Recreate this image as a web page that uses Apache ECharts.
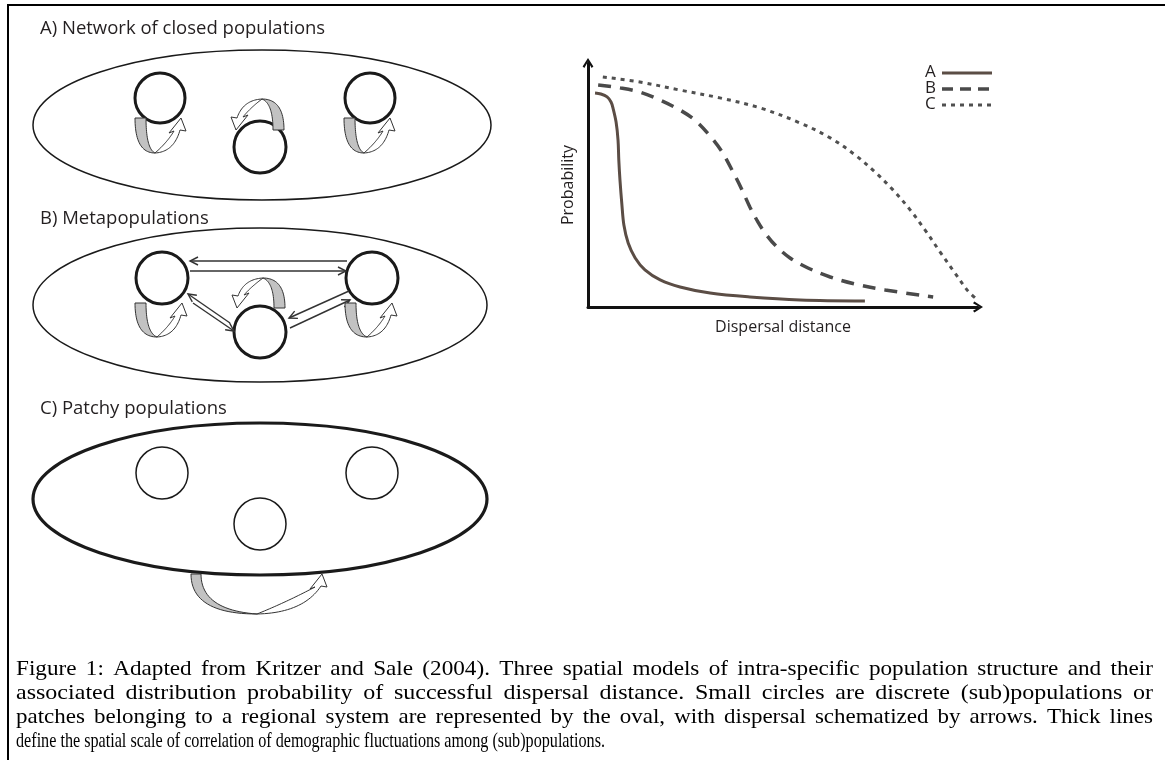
<!DOCTYPE html>
<html><head><meta charset="utf-8">
<script src="https://cdn.jsdelivr.net/npm/echarts@6/dist/echarts.min.js"></script>
<style>html,body{margin:0;padding:0;background:#fff}#c{width:1165px;height:760px}</style>
</head><body><div id="c"></div>
<script>
// ---- data ----
const seriesNames = ['A', 'B', 'C'];
const curveA = [[1.8,87.7],[3.3,87.3],[4.9,86.1],[5.9,84.0],[6.4,81.6],[7.2,75.8],[7.7,68.4],[7.9,60.2],[8.2,52.0],[8.7,41.8],[9.2,33.6],[10.3,26.2],[12.1,20.1],[14.6,15.2],[18.5,11.1],[23.6,8.2],[31.3,5.7],[41.5,4.1],[54.4,2.9],[71.0,2.5]];
const curveB = [[2.6,91.0],[8.2,89.8],[13.3,88.1],[18.5,84.8],[23.6,80.7],[27.4,76.6],[31.3,70.1],[34.4,63.5],[37.2,55.3],[39.5,48.0],[41.5,41.0],[43.6,34.8],[45.6,29.9],[48.2,25.0],[51.8,20.1],[56.4,16.0],[62.1,12.3],[68.5,9.4],[76.2,7.0],[88.5,4.1]];
const curveC = [[3.8,94.3],[13.3,92.2],[23.6,88.9],[33.8,85.7],[44.1,81.6],[54.4,75.4],[62.1,69.3],[68.5,62.3],[73.6,55.3],[78.2,48.0],[82.6,39.8],[86.4,31.6],[90.3,22.5],[94.1,13.9],[97.4,6.6],[99.3,3.7]];
const xAxisName = 'Dispersal distance';
const yAxisName = 'Probability';
const panelTitles = ['A) Network of closed populations', 'B) Metapopulations', 'C) Patchy populations'];
const captionLines = [
  'Figure 1: Adapted from Kritzer and Sale (2004). Three spatial models of intra-specific population structure and their',
  'associated distribution probability of successful dispersal distance. Small circles are discrete (sub)populations or',
  'patches belonging to a regional system are represented by the oval, with dispersal schematized by arrows. Thick lines',
  'define the spatial scale of correlation of demographic fluctuations among (sub)populations.'
];
const lineColors = ['#5b4d45', '#4a4a4a', '#505050'];
const lineTypes = ['solid', [13, 9], [4, 5]];
const legendDash = [null, [11, 7], [4, 5]];
const lineWidths = [3, 3.5, 3];

// ---- helpers for the schematic diagrams ----
const INK = '#1a1a1a';
function quadPts(p0, c, p1, n) {
  const r = [];
  for (let i = 0; i <= n; i++) {
    const t = i / n, u = 1 - t;
    r.push([u*u*p0[0] + 2*u*t*c[0] + t*t*p1[0], u*u*p0[1] + 2*u*t*c[1] + t*t*p1[1]]);
  }
  return r;
}
function xf(pts, ox, oy, rot, sc) {
  const c = Math.cos(rot), s = Math.sin(rot);
  return pts.map(([x, y]) => { x *= sc; y *= sc; return [ox + x*c - y*s, oy + x*s + y*c]; });
}
function poly(points, fill, lw) {
  return { type: 'polygon', shape: { points }, style: { fill, stroke: '#333', lineWidth: lw || 1 } };
}
function loop(ox, oy, wl, wr, h, band, rot, sc) {
  const gray = quadPts([-wl, -h], [-wl, 0], [0, 0], 24)
    .concat(quadPts([0, 0], [-wl + band, -band * 0.4], [-wl + band, -h], 24));
  const Po = [wr - 2, -h + 12], Pi = [wr - 8, -h + 13];
  const white = quadPts([0, 0], [wr * 0.7, -1], Po, 24)
    .concat([[wr + 4, -h + 13], [wr - 1, -h], [wr - 13, -h + 15]])
    .concat(quadPts(Pi, [wr * 0.45, -h * 0.3], [0, 0], 24));
  return [poly(xf(gray, ox, oy, rot, sc), '#c2c2c2'), poly(xf(white, ox, oy, rot, sc), '#ffffff')];
}
function arrow(x1, y1, x2, y2) {
  const dx = x2 - x1, dy = y2 - y1, L = Math.hypot(dx, dy);
  const ux = dx / L, uy = dy / L, px = -uy, py = ux;
  return [
    { type: 'line', shape: { x1, y1, x2, y2 }, style: { stroke: '#333', lineWidth: 1.4 } },
    { type: 'polyline', shape: { points: [[x2 - ux*8 + px*4, y2 - uy*8 + py*4], [x2, y2], [x2 - ux*8 - px*4, y2 - uy*8 - py*4]] },
      style: { stroke: '#333', lineWidth: 1.4, fill: null } }
  ];
}
function ellipse(cx, cy, rx, ry, lw) {
  return { type: 'ellipse', shape: { cx, cy, rx, ry }, style: { fill: 'rgba(0,0,0,0)', stroke: INK, lineWidth: lw } };
}
function circle(cx, cy, r, lw) {
  return { type: 'circle', shape: { cx, cy, r }, style: { fill: '#fff', stroke: INK, lineWidth: lw } };
}
function label(text, x, y, size) {
  return { type: 'text', x, y, style: { text, fontFamily: 'Open Sans', fontSize: size || 18, fill: '#231f20', verticalAlign: 'middle' } };
}

const els = [];
// figure frame
els.push({ type: 'line', shape: { x1: 8, y1: 4, x2: 8, y2: 760 }, style: { stroke: '#000', lineWidth: 2 } });
els.push({ type: 'line', shape: { x1: 7, y1: 5, x2: 1165, y2: 5 }, style: { stroke: '#000', lineWidth: 2 } });

// panel titles
els.push(label(panelTitles[0], 40, 29, 18.5));
els.push(label(panelTitles[1], 40, 219, 18.5));
els.push(label(panelTitles[2], 40, 409, 18.5));

// A) network of closed populations
els.push(ellipse(262, 125, 229, 75, 1.5));
els.push(circle(160, 98, 25, 3), circle(260, 147, 26, 3), circle(370, 98, 25, 3));
els.push(...loop(155, 153, 20, 27, 35, 11, 0, 1));
els.push(...loop(364, 153, 20, 27, 35, 11, 0, 1));
els.push(...loop(262, 99, 22, 27, 31, 11, Math.PI, 1));

// B) metapopulations
els.push(ellipse(260, 305, 227, 77, 1.5));
els.push(circle(162, 278, 26, 3), circle(372, 278, 26, 3), circle(260, 332, 26, 3));
els.push(...arrow(347, 261, 190, 261), ...arrow(190, 271, 346, 271));
els.push(...arrow(230, 323, 188, 294), ...arrow(193, 303, 234, 331));
els.push(...arrow(349, 291, 289, 318), ...arrow(290, 328, 350, 300));
els.push(...loop(157, 337, 22, 26, 34, 11, 0, 1));
els.push(...loop(367, 337, 22, 26, 34, 11, 0, 1));
els.push(...loop(263, 278, 22, 27, 30, 11, Math.PI, 1));

// C) patchy populations
els.push(ellipse(260, 499, 227, 76, 3.2));
els.push(circle(162, 473, 26, 1.5), circle(372, 473, 26, 1.5), circle(260, 524, 26, 1.5));
els.push(...loop(257, 614, 66, 66, 40, 10, 0, 1));

// legend (drawn with the same line styles as the series)
seriesNames.forEach((n, i) => {
  const y = 72 + i * 16;
  els.push({ type: 'text', x: 925, y, style: { text: n, fontFamily: 'Open Sans', fontSize: 17, fill: '#231f20', verticalAlign: 'middle' } });
  els.push({ type: 'line', shape: { x1: 942, y1: y + 1, x2: 992, y2: y + 1 },
    style: { stroke: lineColors[i], lineWidth: lineWidths[i], lineDash: legendDash[i] } });
});

// caption (Times-like; full lines justified to the text width, last line left-aligned)
(function () {
  const fs = 21, fam = 'Liberation Serif';
  const ctx = document.createElement('canvas').getContext('2d');
  ctx.font = fs + 'px "' + fam + '"';
  const left = 16, right = 1153, lastEnd = 605;
  const baselines = [680, 704, 728, 752];
  const sp = ctx.measureText(' ').width;
  captionLines.forEach((l, li) => {
    const words = l.split(' ');
    const ws = words.map(w => ctx.measureText(w).width);
    const sum = ws.reduce((a, b) => a + b, 0);
    const nat = sum + sp * (words.length - 1);
    const end = li < 3 ? right : lastEnd;
    const s = (li < 3 ? 0.95 : 1) * (end - left) / nat;
    const gap = (end - left - s * sum) / (words.length - 1);
    let x = left;
    words.forEach((w, i) => {
      els.push({ type: 'text', x, y: baselines[li], scaleX: s, scaleY: 1,
        style: { text: w, fontFamily: fam, fontSize: fs, fill: '#000', verticalAlign: 'bottom' } });
      x += ws[i] * s + gap;
    });
  });
})();

// ---- chart ----
const arrowHead = 'path://M0,8 L5,0 L10,8 L8.4,9.3 L5,3.2 L1.6,9.3 Z';
const axisCommon = {
  type: 'value', min: 0, max: 100,
  nameLocation: 'middle',
  nameTextStyle: { fontFamily: 'Open Sans', fontSize: 16, color: '#231f20' },
  axisLine: { show: true, symbol: ['none', arrowHead], symbolSize: [12, 10], lineStyle: { color: '#111', width: 3 } },
  axisTick: { show: false }, axisLabel: { show: false }, splitLine: { show: false }
};
const chart = echarts.init(document.getElementById('c'), null, { renderer: 'canvas' });
chart.setOption({
  animation: false,
  backgroundColor: '#fff',
  grid: { left: 588, top: 63, width: 390, height: 244 },
  xAxis: Object.assign({}, axisCommon, { name: xAxisName, nameGap: 12 }),
  yAxis: Object.assign({}, axisCommon, { name: yAxisName, nameGap: 12 }),
  series: seriesNames.map((n, i) => ({
    name: n, type: 'line', data: [curveA, curveB, curveC][i], smooth: 0.35, symbol: 'none',
    lineStyle: { color: lineColors[i], width: lineWidths[i], type: lineTypes[i], cap: 'butt' },
    itemStyle: { color: lineColors[i] }
  })),
  graphic: { elements: els }
});
</script>
</body></html>
